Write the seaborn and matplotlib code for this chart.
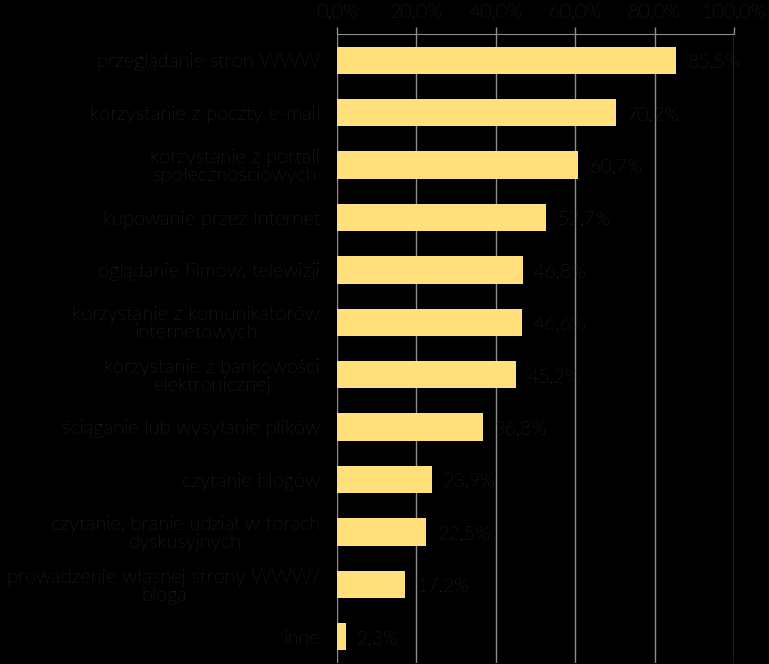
import pandas as pd
import matplotlib.pyplot as plt
import seaborn as sns

# Dane z wykresu
kategorie = [
    "przeglądanie stron WWW",
    "korzystanie z poczty e-mail",
    "korzystanie z portali\nspołecznościowych",
    "kupowanie przez Internet",
    "oglądanie filmów, telewizji",
    "korzystanie z komunikatorów\ninternetowych",
    "korzystanie z bankowości\nelektronicznej",
    "ściąganie lub wysyłanie plików",
    "czytanie blogów",
    "czytanie, branie udział w forach\ndyskusyjnych",
    "prowadzenie własnej strony WWW/\nbloga",
    "inne",
]
wartosci = [85.5, 70.2, 60.7, 52.7, 46.8, 46.6, 45.2, 36.8, 23.9, 22.5, 17.2, 2.3]
ticki = [0, 20, 40, 60, 80, 100]

df = pd.DataFrame({"kategoria": kategorie, "procent": wartosci})

sns.set_style("dark")
plt.rcParams["font.family"] = ["Lato", "DejaVu Sans"]
plt.rcParams["font.weight"] = "light"
tekst = "#404040"
siatka = "#8c8c8c"

fig = plt.figure(figsize=(7.69, 6.64), dpi=100, facecolor="black")
ax = fig.add_axes([0.438, 0.0015, 0.5165, 0.9473])
ax.set_facecolor("black")

sns.barplot(data=df, x="procent", y="kategoria", color="#ffe07a",
            saturation=1, width=0.52, linewidth=0, ax=ax)

ax.set_xlim(0, 100)
ax.set_ylim(11.5, -0.5)
ax.set_xticks(ticki)
ax.set_xticklabels([f"{t:.1f}%".replace(".", ",") for t in ticki])
ax.xaxis.tick_top()
ax.tick_params(axis="x", colors=siatka, labelcolor=tekst, labelsize=14,
               length=5, width=1, pad=4, top=True, bottom=False)
ax.tick_params(axis="y", labelcolor=tekst, labelsize=14.5, length=0, pad=12)
for lbl in ax.get_yticklabels():
    lbl.set_multialignment("center")
    lbl.set_linespacing(1.0)
ax.set_xlabel("")
ax.set_ylabel("")

ax.grid(axis="x", color=siatka, linewidth=1)
ax.grid(axis="y", visible=False)
ax.set_axisbelow(True)
for s in ["left", "right", "bottom"]:
    ax.spines[s].set_visible(False)
ax.spines["top"].set_visible(True)
ax.spines["top"].set_color(siatka)

# etykiety wartości
for i, v in enumerate(wartosci):
    ax.text(v + 2.8, i + 0.05, f"{v:.1f}%".replace(".", ","), va="center", ha="left",
            color=tekst, fontsize=14)

fig.savefig("out.png", dpi=100, facecolor="black")
